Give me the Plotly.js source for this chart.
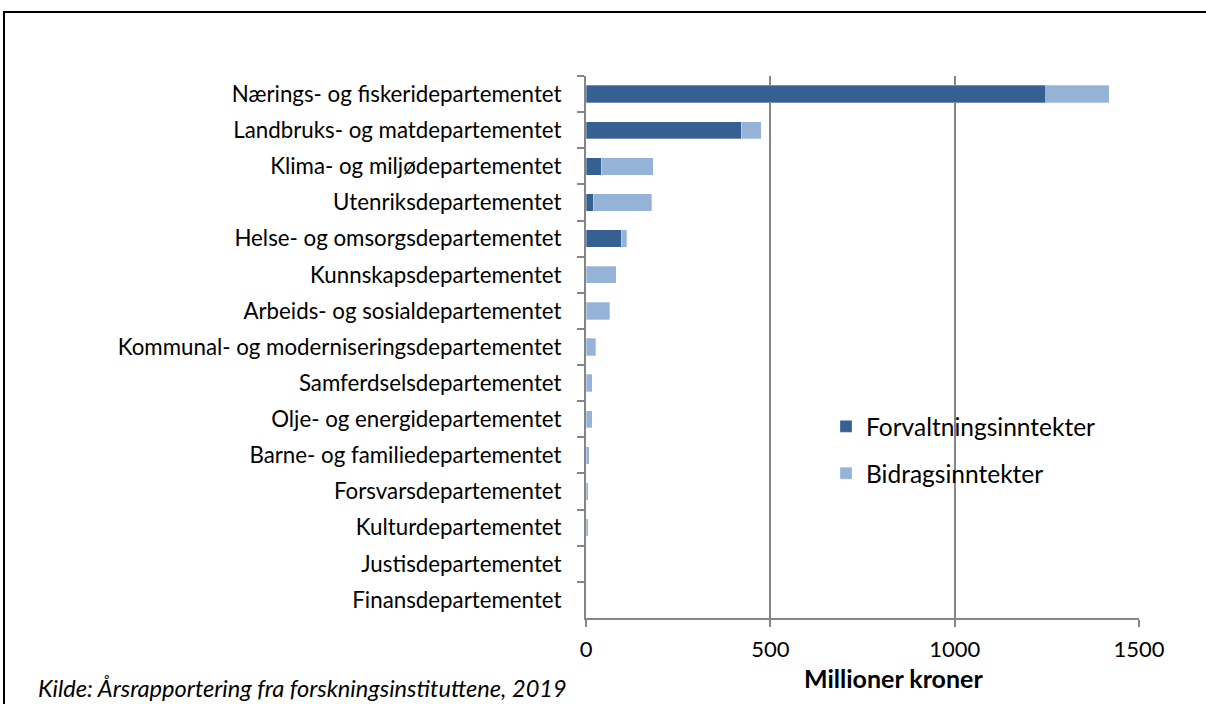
<!DOCTYPE html>
<html>
<head>
<meta charset="utf-8">
<script src="https://cdn.plot.ly/plotly-3.0.1.min.js"></script>
<style>
html,body{margin:0;padding:0;background:#fff;overflow:hidden;}
#chart{width:1206px;height:704px;}
#frame{position:absolute;left:3px;top:11px;width:1220px;height:720px;border:2px solid #000;pointer-events:none;}
</style>
</head>
<body>
<div id="chart"></div>
<div id="frame"></div>
<script>
const departments = [
  "Nærings- og fiskeridepartementet",
  "Landbruks- og matdepartementet",
  "Klima- og miljødepartementet",
  "Utenriksdepartementet",
  "Helse- og omsorgsdepartementet",
  "Kunnskapsdepartementet",
  "Arbeids- og sosialdepartementet",
  "Kommunal- og moderniseringsdepartementet",
  "Samferdselsdepartementet",
  "Olje- og energidepartementet",
  "Barne- og familiedepartementet",
  "Forsvarsdepartementet",
  "Kulturdepartementet",
  "Justisdepartementet",
  "Finansdepartementet"
];
const forvaltningsinntekter = [1247, 421, 41, 20, 96, 0, 0, 0, 0, 0, 0, 0, 0, 0, 0];
const bidragsinntekter      = [172, 55, 142, 159, 14, 82, 65, 27, 17, 17, 9, 6, 6, 1, 0];
const xTicks = [0, 500, 1000, 1500];

const FONT = "Lato, 'Open Sans', sans-serif";

const traces = [
  {
    type: "bar", orientation: "h", name: "Forvaltningsinntekter",
    y: departments, x: forvaltningsinntekter,
    marker: {color: "#376092", line: {color: "rgba(255,255,255,0.6)", width: 0.5}},
    width: 0.48, legendgroup: "a", hoverinfo: "x+y+name"
  },
  {
    type: "bar", orientation: "h", name: "Bidragsinntekter",
    y: departments, x: bidragsinntekter,
    marker: {color: "#95B3D7", line: {color: "rgba(255,255,255,0.6)", width: 0.5}},
    width: 0.48, legendgroup: "b", hoverinfo: "x+y+name"
  }
];

const layout = {
  width: 1206, height: 704,
  margin: {l: 586, r: 67, t: 76, b: 86, pad: 0},
  paper_bgcolor: "#fff", plot_bgcolor: "#fff",
  barmode: "stack",
  font: {family: FONT, color: "#000", size: 22},
  showlegend: true,
  legend: {
    x: 0.434, y: 0.395, xanchor: "left", yanchor: "top",
    bgcolor: "rgba(0,0,0,0)", traceorder: "grouped", tracegroupgap: 12,
    font: {family: FONT, size: 24.5, color: "#000"}
  },
  xaxis: {
    range: [0, 1500], tickvals: xTicks, ticktext: xTicks.map(String),
    showgrid: true, gridcolor: "#868686", gridwidth: 2,
    showline: true, linecolor: "#868686", linewidth: 2,
    ticks: "outside", ticklen: 7, tickwidth: 2, tickcolor: "#868686",
    ticklabelstandoff: 4,
    tickfont: {family: FONT, size: 22, color: "#000"},
    zeroline: false, fixedrange: true
  },
  yaxis: {
    type: "category", autorange: "reversed",
    showline: true, linecolor: "#868686", linewidth: 2,
    ticks: "outside", ticklen: 7, tickwidth: 2, tickcolor: "#868686",
    tickson: "boundaries", showgrid: false, zeroline: false,
    ticklabelstandoff: 18,
    tickfont: {family: FONT, size: 22.3, color: "#000"}, fixedrange: true
  },
  annotations: [
    {
      text: "<b>Millioner kroner</b>",
      xref: "paper", yref: "paper", x: 0.556, y: -0.111,
      xanchor: "center", yanchor: "middle", showarrow: false,
      font: {family: FONT, size: 25, color: "#000"}
    },
    {
      text: "<i>Kilde: Årsrapportering fra forskningsinstituttene, 2019</i>",
      xref: "paper", yref: "paper", x: -0.994, y: -0.129,
      xanchor: "left", yanchor: "middle", showarrow: false,
      font: {family: FONT, size: 23.6, color: "#000"}
    }
  ]
};

Plotly.newPlot("chart", traces, layout, {displayModeBar: false, staticPlot: true});
</script>
</body>
</html>
